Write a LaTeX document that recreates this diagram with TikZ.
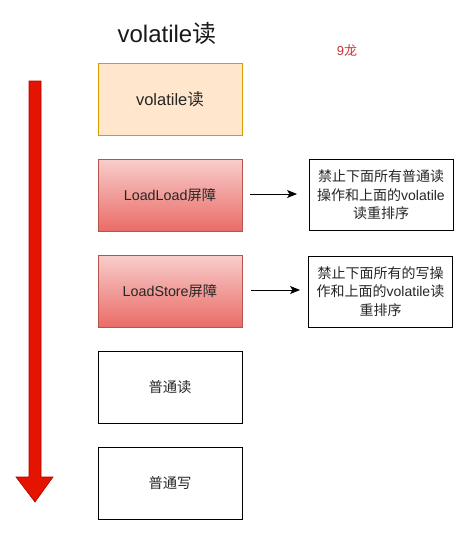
\documentclass[tikz,border=0pt]{standalone}
\usepackage{fontspec}
\setmainfont{Liberation Sans}
\newfontfamily\cjk{Noto Sans CJK SC}
\usetikzlibrary{arrows.meta}
\definecolor{orfill}{HTML}{FFE6CC}
\definecolor{ordraw}{HTML}{D79B00}
\definecolor{rtop}{HTML}{F8CECC}
\definecolor{rbot}{HTML}{EA6B66}
\definecolor{rdraw}{HTML}{B85450}
\definecolor{arrfill}{HTML}{E51400}
\definecolor{arrdraw}{HTML}{B20000}
\definecolor{lbl}{HTML}{CC3333}
\begin{document}
\begin{tikzpicture}[x=1pt,y=-1pt,
  stepbox/.style={draw, line width=0.9pt, minimum width=144pt, minimum height=72pt, inner sep=0pt, font=\fontsize{14.3}{17}\selectfont, text=black!85},
  notebox/.style={draw, line width=0.9pt, minimum width=144pt, minimum height=71pt, inner sep=1pt, align=center, font=\fontsize{14}{18.5}\selectfont\cjk, text=black!85},
  conn/.style={-{Stealth[length=10pt,width=8pt,inset=2.5pt]}, line width=0.8pt}]
\useasboundingbox (0,0) rectangle (470,536);
\node[text=black!90] (title) at (167,33) {\fontsize{24}{28}\selectfont volatile{\cjk 读}};
\node[text=lbl] (mark) at (347,50) {\fontsize{13}{15}\selectfont 9{\cjk 龙}};
\node[stepbox, fill=orfill, draw=ordraw, font=\fontsize{16.5}{19}\selectfont] (b1) at (170,99) {volatile{\cjk 读}};
\node[stepbox, draw=rdraw, top color=rtop, bottom color=rbot] (b2) at (170,195) {LoadLoad{\cjk 屏障}};
\node[stepbox, draw=rdraw, top color=rtop, bottom color=rbot] (b3) at (170,291) {LoadStore{\cjk 屏障}};
\node[stepbox, font=\fontsize{14.3}{17}\selectfont\cjk] (b4) at (170,387) {普通读};
\node[stepbox, font=\fontsize{14.3}{17}\selectfont\cjk] (b5) at (170,483) {普通写};
\node[notebox] (n1) at (381,195) {禁止下面所有普通读\\操作和上面的{\rmfamily volatile}\\读重排序};
\node[notebox] (n2) at (380.5,291.5) {禁止下面所有的写操\\作和上面的{\rmfamily volatile}读\\重排序};
\coordinate (a1s) at (250,194);
\coordinate (a1e) at (297,194);
\coordinate (a2s) at (251,290);
\coordinate (a2e) at (300,290);
\draw[conn] (a1s) -- (a1e);
\draw[conn] (a2s) -- (a2e);
\draw[fill=arrfill, draw=arrdraw, line width=0.6pt] (29,81) -- (41,81) -- (41,477) -- (53,477) -- (35,502) -- (16,477) -- (29,477) -- cycle;
\end{tikzpicture}
\end{document}
